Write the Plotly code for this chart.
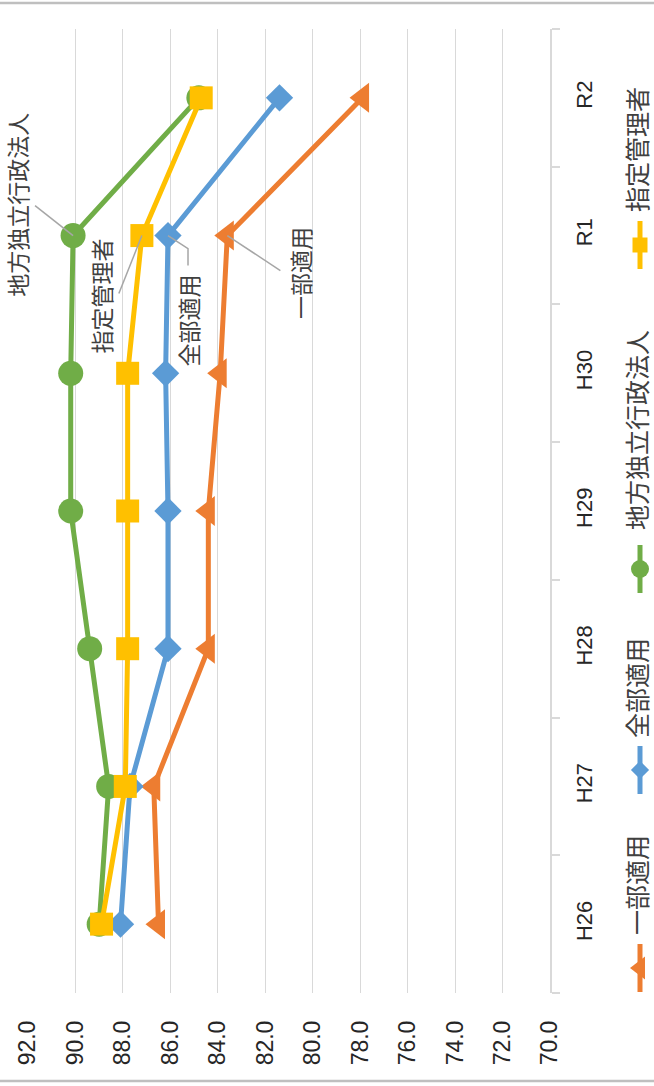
import plotly.graph_objects as go

# ---- data ----
categories = ["H26", "H27", "H28", "H29", "H30", "R1", "R2"]
ichibu = [86.5, 86.7, 84.4, 84.4, 83.9, 83.6, 77.9]      # 一部適用
zenbu = [88.1, 87.7, 86.1, 86.1, 86.2, 86.1, 81.4]       # 全部適用
chihou = [89.0, 88.6, 89.4, 90.2, 90.2, 90.1, 84.8]      # 地方独立行政法人
shitei = [88.9, 87.9, 87.8, 87.8, 87.8, 87.2, 84.7]      # 指定管理者
series_names = ["一部適用", "全部適用", "地方独立行政法人", "指定管理者"]
value_ticks = [92, 90, 88, 86, 84, 82, 80, 78, 76, 74, 72, 70]

W, H = 654, 1086
colors = ["#ED7D31", "#5B9BD5", "#70AD47", "#FFC000"]
symbols = ["triangle-left", "diamond", "circle", "square"]
msizes = [26, 21, 25, 23]
all_vals = [ichibu, zenbu, chihou, shitei]

CJK = "Noto Sans CJK JP"
NUM = "Liberation Sans, Arial, sans-serif"

fig = go.Figure()
for name, vals, c, s, ms in zip(series_names, all_vals, colors, symbols, msizes):
    fig.add_trace(go.Scatter(
        x=vals, y=categories, mode="lines+markers", name=name,
        line=dict(color=c, width=5),
        marker=dict(symbol=s, size=ms, color=c, line=dict(width=0)),
        xaxis="x", yaxis="y", showlegend=False, cliponaxis=False,
    ))

# ---- custom legend (rotated) on an overlay pixel-space axis ----
leg_x = 640
leg_items = [  # (marker y, text y)
    (968, 885),
    (770, 688),
    (569, 430),
    (245, 150),
]
leg_msizes = [20, 14, 18, 15]
for (my, ty), name, c, s, ms in zip(leg_items, series_names, colors, symbols, leg_msizes):
    fig.add_trace(go.Scatter(
        x=[leg_x, leg_x], y=[my - 24, my + 24], mode="lines",
        line=dict(color=c, width=5), xaxis="x2", yaxis="y2",
        showlegend=False, hoverinfo="skip",
    ))
    fig.add_trace(go.Scatter(
        x=[leg_x], y=[my], mode="markers",
        marker=dict(symbol=s, size=ms, color=c, line=dict(width=0)),
        xaxis="x2", yaxis="y2", showlegend=False, hoverinfo="skip",
    ))

annotations = []
for (my, ty), name in zip(leg_items, series_names):
    annotations.append(dict(
        x=leg_x - 4, y=ty, xref="x2", yref="y2", text=name, showarrow=False,
        textangle=-90, xanchor="center", yanchor="middle",
        font=dict(family=CJK, size=25, color="#404040"),
    ))

# ---- data labels at R1 with leader lines ----
r1 = categories.index("R1")
label_specs = [
    # (series index, xshift px, yshift px)
    (2, -57, 31),
    (3, -41, -60),
    (1, 20, -85),
    (0, 72, -37),
]
for si, xs, ys in label_specs:
    annotations.append(dict(
        x=all_vals[si][r1], y=r1, xref="x", yref="y", text=series_names[si],
        showarrow=False, textangle=-90, xshift=xs, yshift=ys,
        xanchor="center", yanchor="middle",
        font=dict(family=CJK, size=23, color="#404040"),
    ))

PXV = 23.7    # px per value unit
PXC = 137.7   # px per category
shapes = []
leader = [
    # (series index, list of (dx px, dy px) offsets from the point; screen coords)
    (2, [(-38, -30), (0, 0)]),
    (3, [(-23, 58), (0, 0)]),
    (1, [(20, 30), (20, 13), (0, 0)]),
    (0, [(53, 35), (0, 0)]),
]
for si, pts in leader:
    v0 = all_vals[si][r1]
    coords = [(v0 - dx / PXV, r1 - dy / PXC) for dx, dy in pts]
    path = "M " + " L ".join(f"{x},{y}" for x, y in coords)
    shapes.append(dict(type="path", xref="x", yref="y", path=path,
                       line=dict(color="#A6A6A6", width=1.5)))

# chart border lines
shapes.append(dict(type="line", xref="paper", yref="paper", x0=0, x1=1,
                   y0=1 - 3 / H, y1=1 - 3 / H, line=dict(color="#BFBFBF", width=2.5)))
shapes.append(dict(type="line", xref="paper", yref="paper", x0=0, x1=1,
                   y0=1 - 1081 / H, y1=1 - 1081 / H, line=dict(color="#BFBFBF", width=2.5)))

fig.update_layout(
    template="none",
    width=W, height=H,
    margin=dict(l=0, r=0, t=0, b=0, pad=0, autoexpand=False),
    paper_bgcolor="white", plot_bgcolor="rgba(0,0,0,0)",
    showlegend=False,
    xaxis=dict(
        domain=[28 / W, 550 / W], range=[92, 70], tickvals=value_ticks,
        tickformat=".1f", tickangle=-90, showgrid=True, gridcolor="#D9D9D9",
        gridwidth=1.3, zeroline=False, showline=False, ticks="",
        ticklabelstandoff=22, anchor="y", automargin=False,
        tickfont=dict(family=NUM, size=23, color="#262626"),
    ),
    yaxis=dict(
        domain=[1 - 993 / H, 1 - 29 / H], type="category",
        categoryorder="array", categoryarray=categories, range=[-0.5, 6.5],
        side="right", tickangle=-90, showline=True, linecolor="#D9D9D9",
        linewidth=1.5, ticks="outside", tickson="boundaries", ticklen=8,
        tickcolor="#D9D9D9", tickwidth=1.5, showgrid=False, zeroline=False,
        anchor="x", ticklabelstandoff=14, automargin=False,
        tickfont=dict(family=NUM, size=22, color="#262626"),
    ),
    xaxis2=dict(domain=[0, 1], range=[0, W], visible=False, anchor="y2",
                fixedrange=True, automargin=False),
    yaxis2=dict(domain=[0, 1], range=[H, 0], visible=False, anchor="x2",
                fixedrange=True, automargin=False),
    annotations=annotations,
    shapes=shapes,
)

fig.write_html(
    "out.html",
    config={"displayModeBar": False},
    post_script="document.body.style.margin='0px';document.body.style.overflow='hidden';",
)
